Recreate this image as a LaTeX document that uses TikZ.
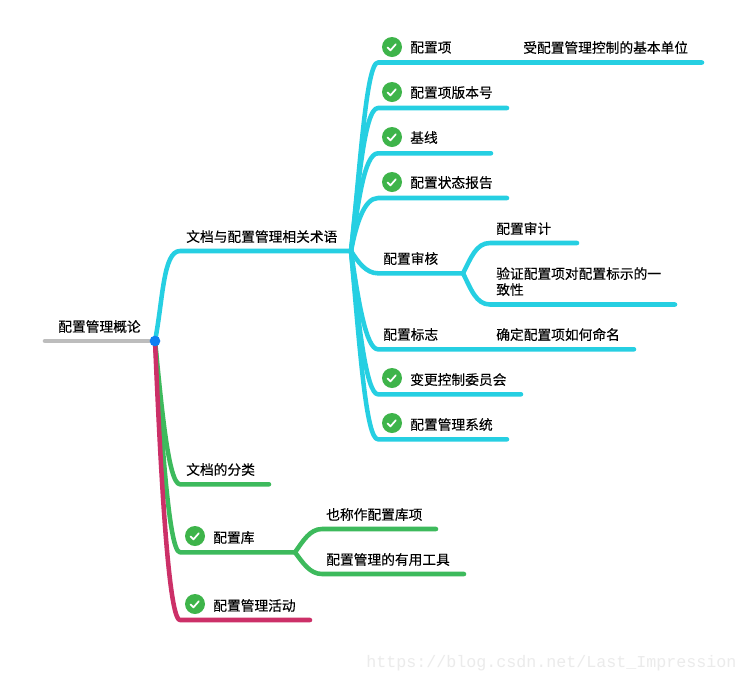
\documentclass[tikz,border=0pt]{standalone}
\usepackage{fontspec}
\setmainfont[FakeBold=0.2]{Noto Sans CJK SC}
\newfontfamily\wmfont{Liberation Mono}
\definecolor{cy}{HTML}{26CFE2}
\definecolor{gn}{HTML}{3DBA5C}
\definecolor{rd}{HTML}{CC3068}
\definecolor{gy}{HTML}{BDBDBD}
\definecolor{bl}{HTML}{0F7FF2}
\definecolor{ck}{HTML}{3EB44A}
\tikzset{
  lbl/.style={anchor=west,inner sep=0pt,yshift=-0.4pt,font=\fontsize{10.3pt}{12pt}\selectfont,text=black,align=left},
  bar/.style={line width=3.4pt,line cap=round,line join=round},
  chk/.style={circle,fill=ck,minimum size=15pt,inner sep=0pt},
  tick/.style={draw=white,line width=1.3pt,line cap=round,line join=round}
}
\newcommand{\chkmark}[2]{%
  \node[chk] (#1) at (#2) {};
  \draw[tick] ([shift={(-4.4,0.5)}]#1.center) -- ([shift={(-1.6,3.4)}]#1.center) -- ([shift={(3.8,-2.7)}]#1.center);
}
\begin{document}
\begin{tikzpicture}[x=0.75pt,y=-0.75pt]
\useasboundingbox (0,0) rectangle (747,683);
\fill[white] (0,0) rectangle (747,683);

% junctions and corners
\coordinate (c0) at (45,341);
\coordinate (rootp) at (155,341);
\coordinate (h1) at (351,251);
\coordinate (k1) at (180,251);
\foreach \n/\x/\y in {a/378/62.5,ae/702/62.5,b/378/108,be/507/108,c/378/153.3,ce/491/153.3,d/378/198,de/507/198,
  e/378/273.3,eh/463/273.3,f/378/349.3,fe/634/349.3,g/378/394.3,ge/521/394.3,i/378/439.3,ie/507/439.3,
  ea/490/243,eae/577/243,eb/490/304.5,ebe/675/304.5,
  m/180/484.3,me/269/484.3,n/180/552.3,nh/295/552.3,
  na/322/529,nae/436/529,nb/322/574,nbe/464/574,
  r/180/620,re/310/620}{\coordinate (\n) at (\x,\y);}

% connectors: cyan
\draw[bar,cy] (rootp) .. controls (163,300) and (163,251) .. (k1) -- (h1);
\draw[bar,cy] (h1) .. controls (360,170) and (366,62.5) .. (a) -- (ae);
\draw[bar,cy] (h1) .. controls (358,190) and (364,108) .. (b) -- (be);
\draw[bar,cy] (h1) .. controls (358,205) and (364,153.3) .. (c) -- (ce);
\draw[bar,cy] (h1) .. controls (356,225) and (364,198) .. (d) -- (de);
\draw[bar,cy] (h1) .. controls (358,262) and (366,273.3) .. (e) -- (eh);
\draw[bar,cy] (h1) .. controls (358,300) and (366,349.3) .. (f) -- (fe);
\draw[bar,cy] (h1) .. controls (358,320) and (366,394.3) .. (g) -- (ge);
\draw[bar,cy] (h1) .. controls (360,350) and (366,439.3) .. (i) -- (ie);
\draw[bar,cy] (eh) .. controls (471,258) and (476,243) .. (ea) -- (eae);
\draw[bar,cy] (eh) .. controls (471,289) and (476,304.5) .. (eb) -- (ebe);
% green
\draw[bar,gn] (rootp) .. controls (161,400) and (168,484.3) .. (m) -- (me);
\draw[bar,gn] (rootp) .. controls (161,420) and (168,552.3) .. (n) -- (nh);
\draw[bar,gn] (nh) .. controls (303,541) and (310,529) .. (na) -- (nae);
\draw[bar,gn] (nh) .. controls (303,563) and (310,574) .. (nb) -- (nbe);
% red
\draw[bar,rd] (rootp) .. controls (159,430) and (167,620) .. (r) -- (re);
% root
\draw[bar,gy] (c0) -- (rootp);
\node[circle,fill=bl,minimum size=8pt,inner sep=0pt] (rootdot) at (rootp) {};

% labels
\node[lbl] (t0) at (58,326) {配置管理概论};
\node[lbl] (t1) at (186,236) {文档与配置管理相关术语};
\node[lbl] (ta) at (410,47) {配置项};
\node[lbl] (taa) at (523,47) {受配置管理控制的基本单位};
\node[lbl] (tb) at (410,92) {配置项版本号};
\node[lbl] (tc) at (410,137) {基线};
\node[lbl] (td) at (410,182) {配置状态报告};
\node[lbl] (te) at (383,258) {配置审核};
\node[lbl] (tea) at (496,228) {配置审计};
\node[lbl] (teb) at (496,281) {验证配置项对配置标示的一\\致性};
\node[lbl] (tf) at (383,334) {配置标志};
\node[lbl] (tfa) at (496,334) {确定配置项如何命名};
\node[lbl] (tg) at (410,379) {变更控制委员会};
\node[lbl] (ti) at (410,424) {配置管理系统};
\node[lbl] (tm) at (186,469) {文档的分类};
\node[lbl] (tn) at (213,537) {配置库};
\node[lbl] (tna) at (326,514) {也称作配置库项};
\node[lbl] (tnb) at (326,559) {配置管理的有用工具};
\node[lbl] (tr) at (213,605) {配置管理活动};

% check icons
\chkmark{ia}{392,47}
\chkmark{ib}{392,92}
\chkmark{ic}{392,137}
\chkmark{id}{392,182}
\chkmark{ig}{392,378}
\chkmark{ii}{392,423}
\chkmark{in}{195,536}
\chkmark{ir}{195,604}

% watermark
\node[anchor=west,inner sep=0pt,text=black!8,font=\wmfont\fontsize{12.5pt}{14pt}\selectfont] (wm) at (366,663) {https://blog.csdn.net/Last\_Impression};
\end{tikzpicture}
\end{document}
